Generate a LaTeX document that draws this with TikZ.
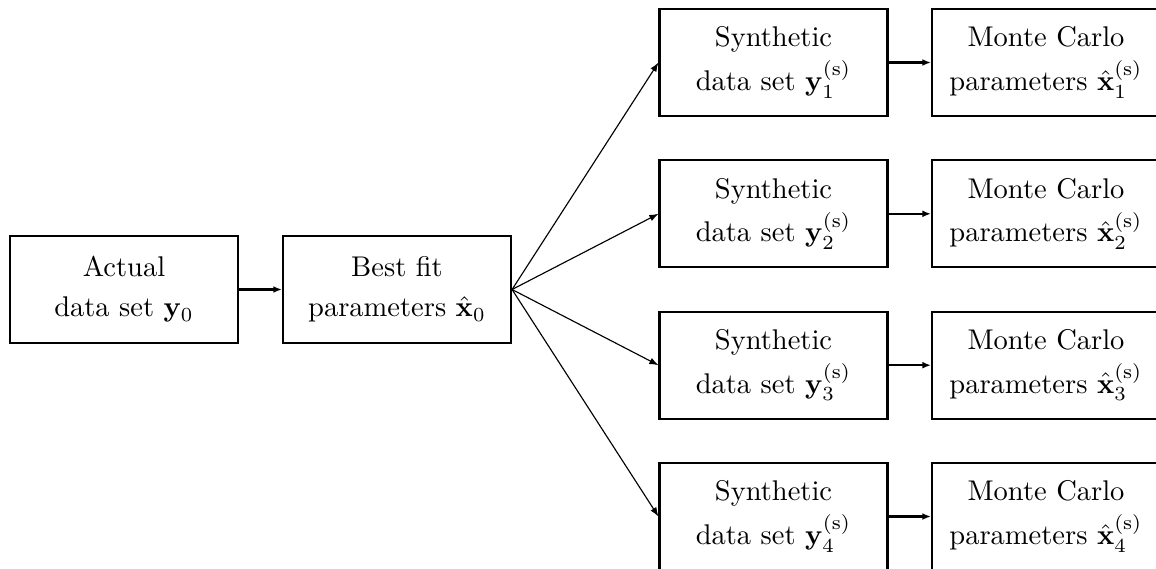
\documentclass[tikz,border=0pt]{standalone}
\usetikzlibrary{arrows.meta}
\begin{document}
\begin{tikzpicture}[x=0.3509pt,y=-0.3509pt,
  blk/.style={draw,line width=0.75pt,minimum width=80pt,minimum height=37.5pt,inner sep=0pt,align=center,font=\fontsize{10}{14}\selectfont},
  supblk/.style={blk,font=\fontsize{10}{15.3}\selectfont},
  harrow/.style={line width=0.75pt,-{Latex[length=3pt,width=2.4pt]}},
  darrow/.style={line width=0.4pt,-{Latex[length=3.2pt,width=2.4pt]}}]
\useasboundingbox (0,0) rectangle (1156,568);
\node[blk] (act) at (124,289.5) {Actual\\data set $\mathbf{y}_0$};
\node[blk] (best) at (397,289.5) {Best fit\\parameters $\hat{\mathbf{x}}_0$};
\foreach \i/\yy in {1/62.5,2/213.8,3/365.2,4/516.5}{
  \node[supblk] (syn\i) at (773.5,\yy) {Synthetic\\data set $\mathbf{y}_{\i}^{(\mathrm{s})}$};
  \node[supblk] (mc\i) at (1046,\yy) {Monte Carlo\\parameters $\hat{\mathbf{x}}_{\i}^{(\mathrm{s})}$};
  \draw[darrow] (best.east) -- (syn\i.west);
  \draw[harrow] (syn\i.east) -- (mc\i.west);
}
\draw[harrow] (act.east) -- (best.west);
\end{tikzpicture}
\end{document}
